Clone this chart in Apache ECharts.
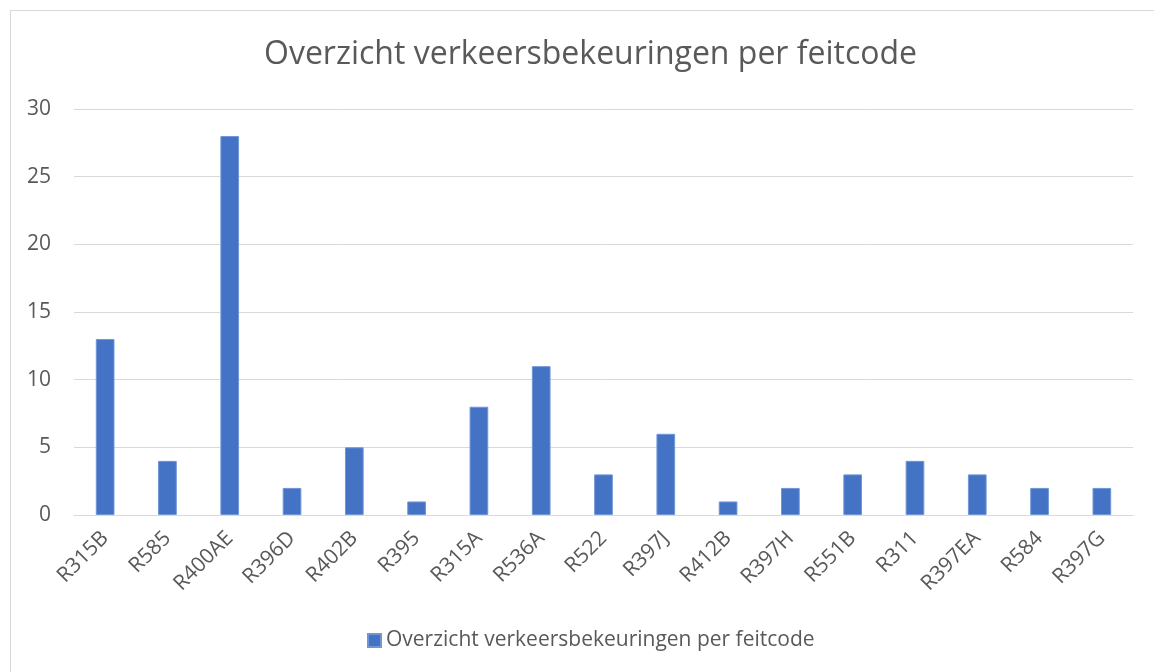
<!DOCTYPE html>
<html>
<head>
<meta charset="utf-8">
<script src="https://cdn.jsdelivr.net/npm/echarts@6/dist/echarts.min.js"></script>
<style>
  html, body { margin: 0; padding: 0; background: #fff; }
  .frame {
    position: absolute;
    left: 10px;
    top: 10px;
    width: 1144px;
    height: 662px;
    border-left: 1px solid #d9d9d9;
    border-top: 1px solid #d9d9d9;
    pointer-events: none;
  }
  #chart { position: absolute; left: 0; top: 0; width: 1154px; height: 672px; }
</style>
</head>
<body>
<div id="chart"></div>
<div class="frame"></div>
<script>
const titleText = 'Overzicht verkeersbekeuringen per feitcode'
const feitcodes = ['R315B', 'R585', 'R400AE', 'R396D', 'R402B', 'R395', 'R315A', 'R536A', 'R522',
  'R397J', 'R412B', 'R397H', 'R551B', 'R311', 'R397EA', 'R584', 'R397G']
const aantallen = [13, 4, 28, 2, 5, 1, 8, 11, 3, 6, 1, 2, 3, 4, 3, 2, 2]

const fontFamily = '"Open Sans", "Noto Sans", sans-serif'
const textColor = '#595959'

const chart = echarts.init(document.getElementById('chart'), null, { renderer: 'canvas' })

chart.setOption({
  animation: false,
  title: {
    text: titleText,
    left: 259,
    top: 34,
    textStyle: {
      fontFamily: fontFamily,
      fontSize: 32,
      fontWeight: 'normal',
      color: textColor
    }
  },
  legend: {
    bottom: 16,
    left: 362,
    icon: 'rect',
    itemWidth: 13,
    itemHeight: 13,
    itemGap: 6,
    textStyle: {
      fontFamily: fontFamily,
      fontSize: 21,
      color: textColor
    },
    data: [titleText]
  },
  grid: {
    left: 74,
    right: 21,
    top: 109,
    bottom: 157,
    containLabel: false
  },
  xAxis: {
    type: 'category',
    data: feitcodes,
    axisLine: { lineStyle: { color: '#d9d9d9', width: 1 } },
    axisTick: { show: false },
    axisLabel: {
      rotate: 45,
      interval: 0,
      margin: 20,
      fontFamily: fontFamily,
      fontSize: 21,
      color: textColor
    }
  },
  yAxis: {
    type: 'value',
    min: 0,
    max: 30,
    interval: 5,
    axisLine: { show: false },
    axisTick: { show: false },
    splitLine: { lineStyle: { color: '#d9d9d9', width: 1 } },
    axisLabel: {
      margin: 23,
      fontFamily: fontFamily,
      fontSize: 21,
      color: textColor
    }
  },
  series: [
    {
      name: titleText,
      type: 'bar',
      data: aantallen,
      barWidth: '30%',
      itemStyle: {
        color: '#4472c4',
        borderColor: '#7096d6',
        borderWidth: 1
      }
    }
  ]
})
</script>
</body>
</html>
